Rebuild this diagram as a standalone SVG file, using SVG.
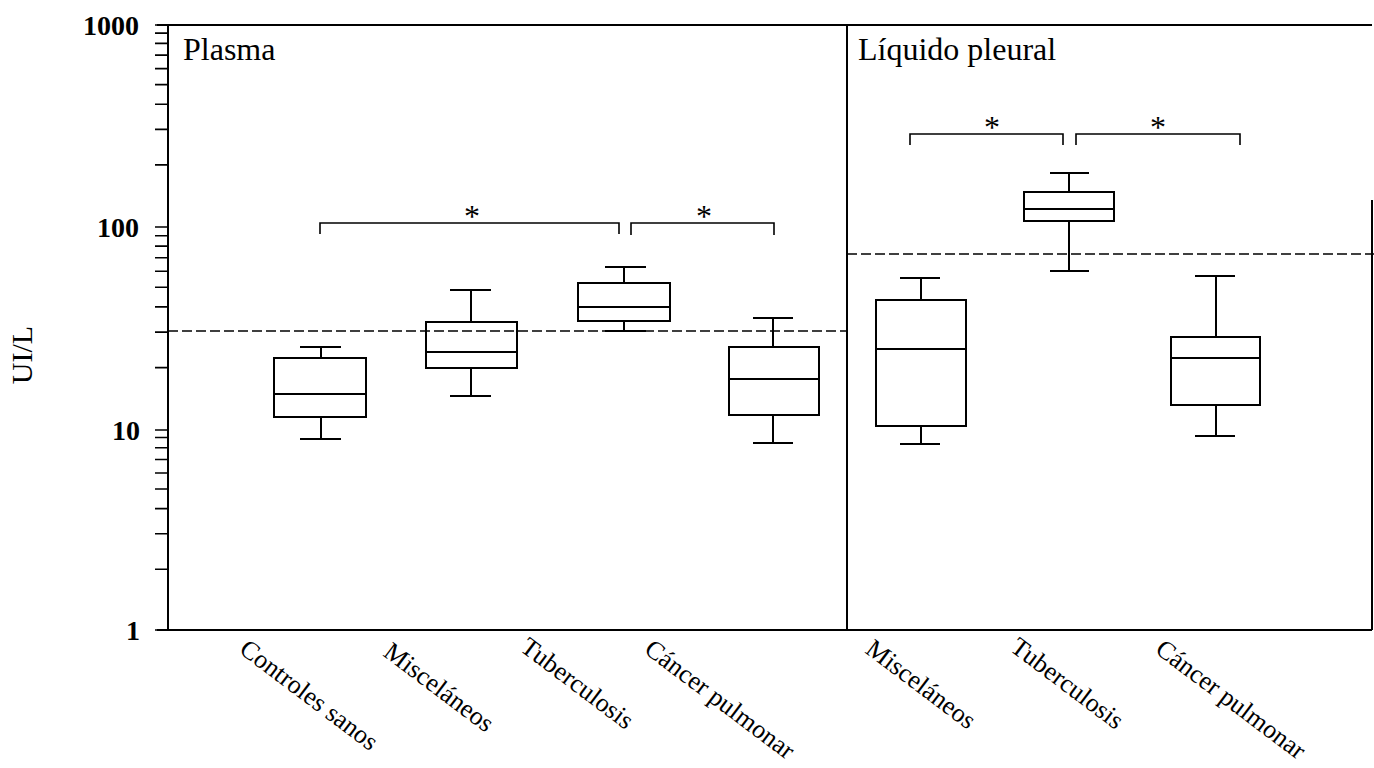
<svg xmlns="http://www.w3.org/2000/svg" width="1374" height="768" viewBox="0 0 1374 768">
<style>
.ax{stroke:#000;stroke-width:2;fill:none}
.tk{stroke:#000;stroke-width:1.6;fill:none}
.box{stroke:#000;stroke-width:2;fill:none}
.dash{stroke:#000;stroke-width:1.6;stroke-dasharray:10 4;fill:none}
.br{stroke:#000;stroke-width:1.6;fill:none}
.yl{font-family:"Liberation Serif",serif;font-weight:bold;font-size:28px;fill:#000;text-anchor:end}
.pt{font-family:"Liberation Serif",serif;font-size:32px;fill:#000}
.xl{font-family:"Liberation Serif",serif;font-size:26px;fill:#000}
.st{font-family:"Liberation Serif",serif;font-size:32px;fill:#000;text-anchor:middle}
</style>
<rect width="1374" height="768" fill="#fff"/>
<g id="axes">
<line class="ax" x1="157" y1="25" x2="1372" y2="25"/>
<line class="ax" x1="157" y1="630" x2="1372" y2="630"/>
<line class="ax" x1="168" y1="25" x2="168" y2="630"/>
<line class="ax" x1="847" y1="25" x2="847" y2="630"/>
<line class="ax" x1="1372" y1="200" x2="1372" y2="630"/>
<path class="tk" d="M155 227H168 M155 430H168 M155 630H168 M155 25H168
M155 569.3H168 M155 533.8H168 M155 508.6H168 M155 489.0H168 M155 473.0H168 M155 459.5H168 M155 447.8H168 M155 437.5H168
M155 367.6H168 M155 332.1H168 M155 306.9H168 M155 287.3H168 M155 271.3H168 M155 257.8H168 M155 246.1H168 M155 235.8H168
M155 164.9H168 M155 129.4H168 M155 104.2H168 M155 84.6H168 M155 68.6H168 M155 55.1H168 M155 43.4H168 M155 33.1H168"/>
<text class="yl" x="139" y="35">1000</text>
<text class="yl" x="139" y="237">100</text>
<text class="yl" x="140" y="440">10</text>
<text class="yl" x="140" y="640">1</text>
<text x="25" y="355" transform="rotate(-90 25 355)" font-family="Liberation Serif, serif" font-size="30" text-anchor="middle" dominant-baseline="middle">UI/L</text>
<text class="pt" x="183" y="60">Plasma</text>
<text class="pt" x="858" y="60">Líquido pleural</text>
</g>
<g id="connectors">
<line class="dash" x1="168" y1="331" x2="847" y2="331"/>
<line class="dash" x1="847" y1="254" x2="1374" y2="254"/>
<path class="br" d="M320 234V223H619V234 M631 235V223H774V235"/>
<path class="br" d="M910 145V134H1063V145 M1076 145V134H1240V145"/>
<text class="st" x="472" y="227">*</text>
<text class="st" x="704" y="227">*</text>
<text class="st" x="992" y="138">*</text>
<text class="st" x="1158" y="138">*</text>
</g>
<g id="plasma-controles">
<path class="box" d="M321 347V358 M321 417V439 M300 347H341 M300 439H341"/>
<rect class="box" x="274" y="358" width="92" height="59"/>
<line class="box" x1="274" y1="394" x2="366" y2="394"/>
</g>
<g id="plasma-miscelaneos">
<path class="box" d="M471 290V322 M471 368V396 M450 290H491 M450 396H491"/>
<rect class="box" x="426" y="322" width="91" height="46"/>
<line class="box" x1="426" y1="352" x2="517" y2="352"/>
</g>
<g id="plasma-tuberculosis">
<path class="box" d="M624 267V283 M624 321V331 M605 267H646 M605 331H646"/>
<rect class="box" x="578" y="283" width="92" height="38"/>
<line class="box" x1="578" y1="307" x2="670" y2="307"/>
</g>
<g id="plasma-cancer">
<path class="box" d="M773 318V347 M773 415V443 M753 318H793 M753 443H793"/>
<rect class="box" x="729" y="347" width="90" height="68"/>
<line class="box" x1="729" y1="379" x2="819" y2="379"/>
</g>
<g id="pleural-miscelaneos">
<path class="box" d="M921 278V300 M921 426V444 M900 278H940 M900 444H940"/>
<rect class="box" x="876" y="300" width="90" height="126"/>
<line class="box" x1="876" y1="349" x2="966" y2="349"/>
</g>
<g id="pleural-tuberculosis">
<path class="box" d="M1069 173V192 M1069 221V271 M1050 173H1089 M1050 271H1089"/>
<rect class="box" x="1024" y="192" width="90" height="29"/>
<line class="box" x1="1024" y1="209" x2="1114" y2="209"/>
</g>
<g id="pleural-cancer">
<path class="box" d="M1216 276V337 M1216 405V436 M1195 276H1235 M1195 436H1235"/>
<rect class="box" x="1171" y="337" width="89" height="68"/>
<line class="box" x1="1171" y1="358" x2="1260" y2="358"/>
</g>
<g id="xlabels">
<text class="xl" x="238" y="652" transform="rotate(37 238 652)">Controles sanos</text>
<text class="xl" x="382" y="655" transform="rotate(37 382 655)">Misceláneos</text>
<text class="xl" x="519" y="650" transform="rotate(37 519 650)">Tuberculosis</text>
<text class="xl" x="643" y="652" transform="rotate(37 643 652)">Cáncer pulmonar</text>
<text class="xl" x="864" y="652" transform="rotate(37 864 652)">Misceláneos</text>
<text class="xl" x="1009" y="650" transform="rotate(37 1009 650)">Tuberculosis</text>
<text class="xl" x="1154" y="652" transform="rotate(37 1154 652)">Cáncer pulmonar</text>
</g>
</svg>
